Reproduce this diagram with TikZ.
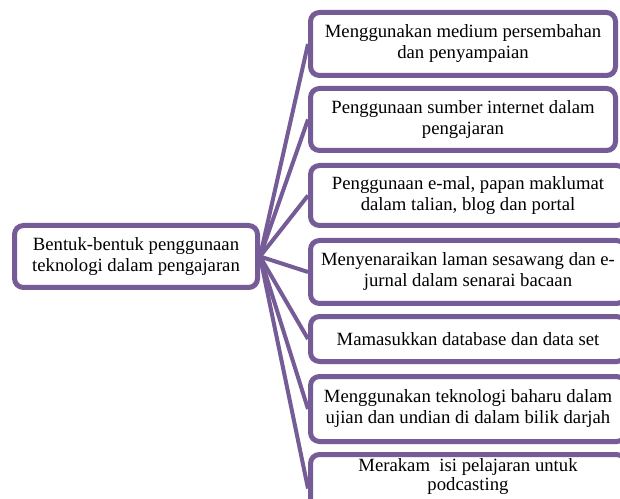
\documentclass[tikz,border=0pt]{standalone}
\usepackage{fontspec}
\setmainfont{Liberation Serif}
\usetikzlibrary{shadows,backgrounds}
\definecolor{boxpurple}{RGB}{118,92,150}
\begin{document}
\begin{tikzpicture}[x=1pt,y=1pt,
  box/.style={draw=boxpurple, line width=5pt, rounded corners=9pt, fill=white,
    align=center, inner sep=2pt, font=\fontsize{18.7}{21}\selectfont,
    drop shadow={shadow xshift=1.5pt, shadow yshift=-2.5pt, opacity=0.3}},
  leaf/.style={box, minimum width=315pt},
  conn/.style={draw=boxpurple, line width=4pt},
  plain/.style={align=center, inner sep=0pt, font=\fontsize{18.7}{19}\selectfont}]
\clip (0,0) rectangle (620,498);
\node[box, minimum width=243pt, minimum height=62pt] (root) at (136,241.5)
  {Bentuk-bentuk penggunaan\\teknologi dalam pengajaran};
\node[box, minimum width=305pt, minimum height=63pt] (b1) at (463,454)
  {Menggunakan medium persembahan\\dan penyampaian};
\node[box, minimum width=305pt, minimum height=62pt] (b2) at (463,378.5)
  {Penggunaan sumber internet dalam\\pengajaran};
\node[leaf, minimum height=60pt] (b3) at (468,302.5)
  {Penggunaan e-mal, papan maklumat\\dalam talian, blog dan portal};
\node[leaf, minimum height=63pt] (b4) at (468,226)
  {Menyenaraikan laman sesawang dan e-\\jurnal dalam senarai bacaan};
\node[leaf, minimum height=45pt] (b5) at (468,159)
  {Mamasukkan database dan data set};
\node[leaf, minimum height=65pt] (b6) at (468,89)
  {Menggunakan teknologi baharu dalam\\ujian dan undian di dalam bilik darjah};
\node[leaf, minimum height=68pt] (b7) at (468,9.5) {};
\node[plain] (t7) at (468,21.5) {Merakam\ \ isi pelajaran untuk\\podcasting};
\begin{scope}[on background layer]
  \fill[white] (0,0) rectangle (620,498);
  \foreach \b in {b1,b2,b3,b4,b5,b6,b7}
    \draw[conn] (root.east) -- (\b.west);
\end{scope}
\end{tikzpicture}
\end{document}
